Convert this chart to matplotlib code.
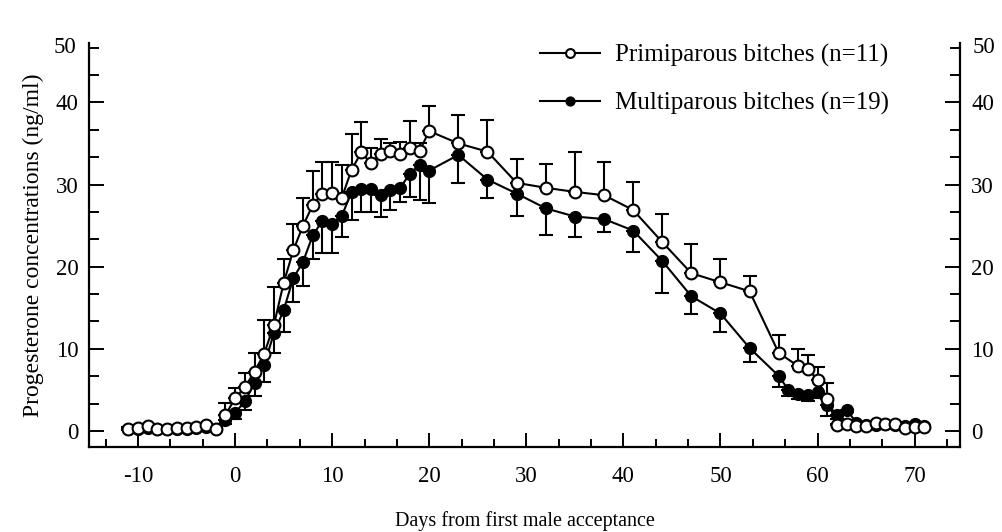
import matplotlib
matplotlib.use('Agg')
import matplotlib.pyplot as plt
import numpy as np
from matplotlib.ticker import FixedLocator

plt.rcParams['font.family'] = ['Liberation Serif', 'DejaVu Serif']
plt.rcParams['axes.unicode_minus'] = False

# primiparous bitches (open circles), SEM drawn upwards
days_p = [-11, -10, -9, -8, -7, -6, -5, -4, -3, -2, -1, 0, 1, 2, 3, 4, 5, 6, 7, 8, 9,
          10, 11, 12, 13, 14, 15, 16, 17, 18, 19, 20, 23, 26, 29, 32, 35, 38, 41, 44,
          47, 50, 53, 56, 58, 59, 60, 61, 62, 63, 64, 65, 66, 67, 68, 69, 70, 71]
prog_p = [0.3, 0.4, 0.6, 0.2, 0.2, 0.35, 0.4, 0.5, 0.7, 0.3, 1.9, 4.0, 5.3, 7.2, 9.4,
          12.9, 18.0, 22.0, 25.0, 27.5, 28.9, 29.0, 28.4, 31.8, 33.9, 32.6, 33.7, 34.1,
          33.7, 34.4, 34.1, 36.5, 35.0, 34.0, 30.2, 29.6, 29.1, 28.7, 26.9, 23.0, 19.2,
          18.1, 17.0, 9.5, 7.9, 7.6, 6.2, 3.9, 0.7, 0.8, 0.6, 0.6, 1.0, 0.8, 0.9, 0.4,
          0.5, 0.5]
sem_p = [0.2, 0.2, 0.2, 0.2, 0.2, 0.2, 0.2, 0.2, 0.2, 0.3, 1.5, 1.2, 1.8, 2.3, 4.1,
         4.6, 2.9, 3.2, 3.3, 4.2, 3.9, 3.8, 4.0, 4.4, 3.7, 1.8, 1.8, 1.0, 1.5, 3.3, 1.0,
         3.1, 3.4, 3.8, 2.9, 2.9, 4.8, 4.0, 3.4, 3.4, 3.5, 2.8, 1.9, 2.2, 2.1, 1.6, 1.6,
         1.9, 0.2, 0.2, 0.2, 0.2, 0.2, 0.2, 0.2, 0.2, 0.2, 0.2]

# multiparous bitches (filled circles), SEM drawn downwards
days_m = [-11, -10, -9, -8, -7, -6, -5, -4, -3, -2, -1, 0, 1, 2, 3, 4, 5, 6, 7, 8, 9,
          10, 11, 12, 13, 14, 15, 16, 17, 18, 19, 20, 23, 26, 29, 32, 35, 38, 41, 44,
          47, 50, 53, 56, 57, 58, 59, 60, 61, 62, 63, 64, 65, 66, 67, 68, 69, 70, 71]
prog_m = [0.3, 0.3, 0.4, 0.2, 0.2, 0.3, 0.3, 0.4, 0.5, 0.3, 1.3, 2.2, 3.6, 5.8, 8.0,
          11.9, 14.7, 18.6, 20.6, 23.8, 25.6, 25.2, 26.2, 29.1, 29.5, 29.5, 28.7, 29.3,
          29.6, 31.3, 32.4, 31.7, 33.6, 30.6, 28.9, 27.1, 26.1, 25.8, 24.4, 20.7, 16.4,
          14.3, 10.1, 6.7, 5.0, 4.5, 4.4, 4.8, 3.2, 2.0, 2.6, 1.0, 0.7, 0.7, 0.8, 0.7,
          0.6, 0.8, 0.6]
sem_m = [0.2, 0.2, 0.2, 0.2, 0.2, 0.2, 0.2, 0.2, 0.2, 0.2, 0.5, 0.8, 1.0, 1.5, 2.0,
         2.4, 2.6, 2.9, 3.0, 2.9, 3.9, 3.5, 2.6, 3.4, 2.8, 2.8, 2.6, 2.4, 1.7, 2.8, 4.3,
         4.0, 3.4, 2.3, 2.7, 3.3, 2.5, 1.6, 2.6, 3.9, 2.2, 2.2, 1.7, 1.3, 0.8, 0.6, 0.7,
         0.8, 1.4, 0.5, 0.3, 0.3, 0.3, 0.3, 0.3, 0.3, 0.3, 0.3, 0.3]

labels = ['Primiparous bitches (n=11)', 'Multiparous bitches (n=19)']

fig = plt.figure(figsize=(10.02, 5.32), dpi=100)
ax = fig.add_axes([0.0893, 0.1598, 0.869, 0.759])

# one-sided error bars (the zero side hides under the marker)
ax.errorbar(days_p, prog_p, yerr=[np.zeros(len(sem_p)), sem_p], fmt='none',
            ecolor='black', elinewidth=1.5, capsize=4.7, capthick=1.5, zorder=2)
ax.errorbar(days_m, prog_m, yerr=[sem_m, np.zeros(len(sem_m))], fmt='none',
            ecolor='black', elinewidth=1.5, capsize=4.7, capthick=1.5, zorder=2)

ax.plot(days_m, prog_m, '-o', color='black', lw=1.5, ms=8.5,
        mfc='black', mec='black', mew=1.0, zorder=3, label=labels[1])
ax.plot(days_p, prog_p, '-o', color='black', lw=1.5, ms=8.5,
        mfc='white', mec='black', mew=1.5, zorder=4, label=labels[0])

ax.set_xlim(-15, 74.7)
ax.set_ylim(-1.95, 47.2)

ax.xaxis.set_major_locator(FixedLocator([-10, 0, 10, 20, 30, 40, 50, 60, 70]))
ax.xaxis.set_minor_locator(FixedLocator(np.arange(-40, 221, 10) / 3.0))
ax.yaxis.set_major_locator(FixedLocator([0, 10, 20, 30, 40]))
ax.yaxis.set_minor_locator(FixedLocator(np.arange(0, 141, 10) / 3.0))

ax.tick_params(axis='both', which='both', direction='in', width=1.4,
               labelsize=16.5, right=True, labelright=True, top=False)
ax.tick_params(axis='y', which='major', length=10.5, pad=8)
ax.tick_params(axis='y', which='minor', length=7.5)
ax.tick_params(axis='x', which='major', length=10, pad=14)
ax.tick_params(axis='x', which='minor', length=6)

# the scanned axis carries a "50" at its topmost tick
for xa, ha in [(-0.0155, 'right'), (1.0145, 'left')]:
    ax.text(xa, 140 / 3.0, '50', transform=ax.get_yaxis_transform(),
            ha=ha, va='center', fontsize=16.5)

for side in ['left', 'right', 'bottom']:
    ax.spines[side].set_linewidth(1.6)
ax.spines['top'].set_visible(False)

ax.set_xlabel('Days from first male acceptance', fontsize=14.5, labelpad=17)
ax.set_ylabel('Progesterone concentrations (ng/ml)', fontsize=17, labelpad=8)

handles, labs = ax.get_legend_handles_labels()
fig.legend(handles[::-1], labs[::-1], loc='upper left', bbox_to_anchor=(0.539, 0.918),
           frameon=False, fontsize=18, handlelength=2.4, handletextpad=0.6,
           labelspacing=1.0, borderpad=0, borderaxespad=0, markerscale=0.75)

plt.savefig('out.png', dpi=100)
